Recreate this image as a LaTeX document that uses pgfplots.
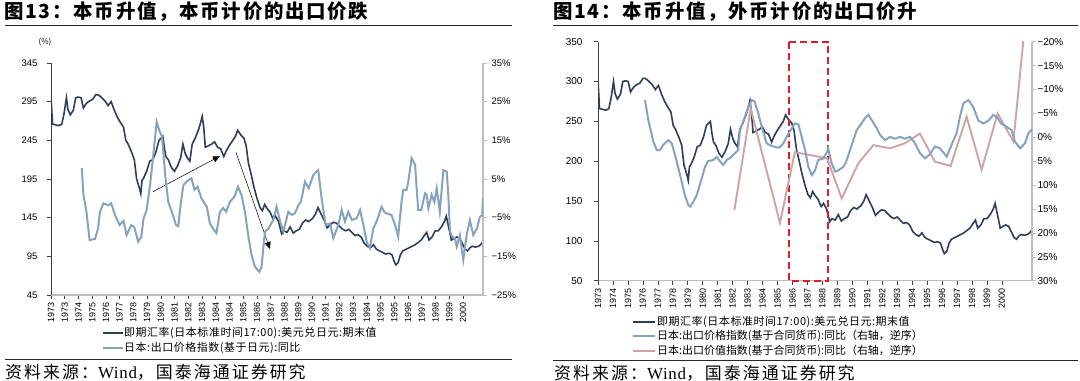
\documentclass[border=0pt]{standalone}
\usepackage{fontspec}
\setmainfont{Liberation Sans}
\newfontfamily\cjk{Noto Sans CJK SC}
\newfontfamily\cjkt[LetterSpace=9]{Noto Sans CJK SC}
\newfontfamily\cjks[LetterSpace=12]{Noto Sans CJK SC}
\newfontfamily\cjkl[LetterSpace=5]{Noto Sans CJK SC}
\newfontfamily\serifs[LetterSpace=4]{Liberation Serif}
\usepackage{pgfplots}
\pgfplotsset{compat=1.18}
\usepackage{pgfplotstable}
\usetikzlibrary{arrows.meta}
\definecolor{cDark}{RGB}{45,62,92}
\definecolor{cLight}{RGB}{134,163,189}
\definecolor{cPink}{RGB}{206,163,163}
\definecolor{cRed}{RGB}{220,30,40}
\definecolor{cGray}{RGB}{190,190,190}

\pgfplotstableread{
x y
1973.00 301
1973.10 266
1973.30 265
1973.50 264
1973.70 266
1973.85 280
1974.00 300
1974.10 285
1974.25 278
1974.45 284
1974.60 300
1974.75 301
1974.95 300
1975.10 287
1975.30 293
1975.50 296
1975.70 298
1975.90 304
1976.05 304
1976.30 300
1976.50 296
1976.70 290
1976.90 295
1977.10 284
1977.30 275
1977.50 268
1977.70 262
1977.85 245
1978.00 240
1978.20 231
1978.40 220
1978.55 195
1978.75 182
1978.82 176
1978.90 193
1979.00 196
1979.20 205
1979.40 218
1979.60 220
1979.80 230
1980.00 245
1980.25 250
1980.35 235
1980.45 224
1980.60 220
1980.80 210
1981.00 205
1981.20 212
1981.40 222
1981.55 240
1981.70 228
1981.85 222
1982.00 218
1982.15 240
1982.35 248
1982.55 258
1982.70 268
1982.80 276
1982.90 262
1983.00 236
1983.20 238
1983.40 240
1983.60 243
1983.80 236
1984.00 234
1984.20 224
1984.35 231
1984.55 238
1984.75 244
1984.95 250
1985.10 258
1985.30 252
1985.50 248
1985.65 238
1985.80 215
1985.95 203
1986.15 185
1986.35 170
1986.55 158
1986.70 154
1986.85 162
1987.00 157
1987.20 152
1987.40 143
1987.55 147
1987.75 140
1987.95 124
1988.10 128
1988.30 126
1988.50 133
1988.70 125
1988.90 128
1989.10 130
1989.30 138
1989.50 142
1989.70 140
1989.95 144
1990.15 150
1990.30 158
1990.50 150
1990.70 142
1990.90 132
1991.10 136
1991.30 139
1991.50 138
1991.70 134
1991.90 130
1992.10 128
1992.30 130
1992.50 126
1992.70 122
1992.90 123
1993.10 120
1993.30 112
1993.50 108
1993.70 106
1993.90 110
1994.10 104
1994.30 102
1994.50 100
1994.70 98
1994.90 99
1995.10 97
1995.25 88
1995.35 84
1995.50 87
1995.65 97
1995.80 102
1996.00 104
1996.20 106
1996.40 108
1996.60 110
1996.80 113
1997.00 116
1997.20 122
1997.35 126
1997.50 116
1997.70 120
1997.90 128
1998.10 128
1998.30 133
1998.50 140
1998.62 147
1998.75 135
1998.95 116
1999.10 118
1999.30 120
1999.50 118
1999.70 110
1999.85 104
2000.00 102
2000.15 106
2000.30 108
2000.50 107
2000.70 108
2000.85 110
2001.00 114
}\fx

\pgfplotstableread{
x y
1975.00 7.8
1975.10 1.0
1975.30 -3.5
1975.50 -10.8
1975.85 -10.5
1976.05 -7.8
1976.17 -3.5
1976.40 -1.3
1976.70 -1.8
1976.90 -1.3
1977.15 -4.3
1977.45 -6.9
1977.70 -5.8
1977.90 -9.5
1978.20 -6.9
1978.40 -7.5
1978.65 -11.2
1978.85 -10.0
1979.00 -5.2
1979.20 -3.0
1979.42 3.4
1979.63 11.2
1979.85 19.8
1980.05 17.2
1980.20 16.0
1980.40 6.0
1980.60 -0.9
1980.90 -4.3
1981.10 -6.9
1981.25 -7.2
1981.40 -1.6
1981.58 3.4
1981.80 4.4
1982.10 5.2
1982.30 2.2
1982.50 3.0
1982.75 0.0
1983.10 -2.2
1983.30 -6.5
1983.50 -7.8
1983.72 -9.0
1983.95 -3.5
1984.17 -2.5
1984.35 -3.5
1984.60 -0.9
1984.90 0.5
1985.12 3.0
1985.35 0.8
1985.57 -3.5
1985.78 -9.5
1986.00 -14.7
1986.22 -17.7
1986.50 -19.0
1986.65 -17.7
1986.76 -12.9
1986.87 -8.6
1987.10 -7.8
1987.40 -5.6
1987.62 -2.2
1987.85 -6.0
1988.06 -8.6
1988.38 -3.5
1988.60 -4.3
1988.81 -3.9
1989.03 -1.8
1989.20 -0.9
1989.46 4.3
1989.70 2.6
1990.00 6.0
1990.20 6.9
1990.32 7.3
1990.54 0.0
1990.80 -6.9
1991.08 -6.5
1991.30 -10.3
1991.62 -6.9
1991.84 -3.0
1992.05 -6.0
1992.27 -3.5
1992.50 -5.6
1992.81 -5.2
1993.03 -3.0
1993.25 -6.9
1993.46 -11.2
1993.67 -12.9
1993.89 -7.8
1994.10 -6.0
1994.43 -2.2
1994.60 -3.5
1994.75 -3.9
1995.07 -4.3
1995.30 -6.9
1995.50 -9.9
1995.72 -0.9
1995.83 2.2
1996.05 2.2
1996.16 4.3
1996.37 10.4
1996.60 8.7
1996.70 2.6
1996.80 -3.0
1997.00 -3.0
1997.24 1.3
1997.35 0.9
1997.46 -2.6
1997.67 0.9
1997.85 -0.9
1998.00 2.6
1998.20 -3.5
1998.43 7.3
1998.65 6.9
1998.75 0.9
1998.86 -8.6
1999.00 -9.9
1999.18 -10.3
1999.30 -12.5
1999.50 -9.5
1999.72 -15.9
1999.94 -9.5
2000.15 -5.6
2000.37 -9.5
2000.60 -7.8
2000.80 -4.8
2000.95 -4.3
2001.00 0.0
}\pyen

\pgfplotstableread{
x y
1976.03 -7.8
1976.25 -3.5
1976.40 -1.5
1976.57 0.9
1976.80 2.7
1977.00 2.7
1977.20 1.6
1977.54 0.6
1977.75 1.2
1977.97 3.7
1978.19 6.5
1978.40 9.3
1978.60 12.1
1978.83 14.2
1978.95 14.5
1979.15 13.5
1979.37 12.1
1979.69 8.6
1979.90 6.2
1980.10 5.0
1980.44 4.75
1980.65 4.1
1980.87 5.0
1981.08 5.8
1981.30 4.75
1981.50 4.4
1981.84 3.3
1982.04 2.7
1982.16 -1.5
1982.48 -4.3
1982.70 -6.4
1982.92 -7.8
1983.10 -7.5
1983.34 -5.0
1983.56 -2.2
1983.88 1.25
1984.20 1.8
1984.50 2.1
1984.74 2.1
1984.96 1.25
1985.17 -0.1
1985.50 -1.9
1985.70 -2.9
1985.93 -2.7
1986.14 -0.1
1986.36 2.7
1986.57 6.2
1986.80 7.9
1987.00 6.9
1987.20 4.75
1987.50 4.5
1987.75 3.3
1987.85 2.3
1988.07 5.4
1988.30 7.2
1988.50 6.9
1988.83 6.2
1989.00 5.2
1989.26 2.7
1989.47 0.6
1989.69 -1.5
1990.00 -2.9
1990.23 -4.0
1990.44 -4.7
1990.66 -3.6
1990.98 -1.9
1991.20 -0.5
1991.52 0.6
1991.85 -0.1
1992.16 0.3
1992.48 -0.1
1992.80 0.3
1993.13 -0.1
1993.45 1.25
1993.77 3.3
1994.10 4.4
1994.40 3.6
1994.74 1.9
1995.06 2.3
1995.50 4.05
1995.80 1.65
1996.13 -0.8
1996.35 -4.3
1996.57 -7.1
1996.90 -7.8
1997.20 -6.4
1997.54 -3.5
1997.86 -2.9
1998.20 -3.5
1998.50 -4.7
1998.80 -4.0
1999.00 -2.9
1999.36 -2.2
1999.68 -1.5
1999.90 0.9
2000.23 2.3
2000.55 1.25
2000.76 -0.8
2001.00 -1.7
}\pcc

\pgfplotstableread{
x y
1981.80 15.2
1982.85 -6.0
1984.74 17.9
1985.70 3.1
1987.78 4.4
1988.72 12.8
1989.80 5.4
1990.76 1.65
1991.84 2.3
1992.80 1.25
1993.77 -0.8
1994.74 5.1
1995.75 6.0
1996.78 -4.3
1997.75 6.8
1998.78 -5.0
1999.80 0.9
2000.80 -32
}\vcc

\pgfplotsset{
  base/.style={scale only axis, xmin=1973, xmax=2001,
    /pgf/number format/assume math mode=true,
    tick align=outside, major tick length=4bp,
    clip mode=individual},
}

\begin{document}
\begin{tikzpicture}
\useasboundingbox (0,0) rectangle (1080bp,381bp);

% titles and rules
\node[anchor=west, inner sep=0] at (4bp,369bp) {\cjkt\bfseries\fontsize{19.5}{20}\selectfont 图13：本币升值，本币计价的出口价跌};
\node[anchor=west, inner sep=0] at (553bp,369bp) {\cjkt\bfseries\fontsize{19.5}{20}\selectfont 图14：本币升值，外币计价的出口价升};
\draw[line width=0.9bp, black!85] (5bp,356bp) -- (512bp,356bp);
\draw[line width=0.9bp, black!85] (553bp,356bp) -- (1078bp,356bp);
\draw[line width=0.9bp, black!85] (5bp,22bp) -- (512bp,22bp);
\draw[line width=0.9bp, black!85] (553bp,21bp) -- (1078bp,21bp);
\node[anchor=west, inner sep=0] at (5bp,9bp) {\cjks\fontsize{17}{18}\selectfont 资料来源：\serifs Wind\cjks，国泰海通证券研究};
\node[anchor=west, inner sep=0] at (554bp,8bp) {\cjks\fontsize{17}{18}\selectfont 资料来源：\serifs Wind\cjks，国泰海通证券研究};

\node[anchor=center, inner sep=0] at (45bp,339bp) {\cjk\fontsize{8}{9}\selectfont (\%)};

% ---------- left panel ----------
\begin{axis}[base, at={(51bp,86bp)}, anchor=south west, width=432bp, height=232bp,
  ymin=45, ymax=345, ytick={45,95,145,195,245,295,345},
  axis x line*=bottom, axis y line*=left,
  x axis line style={draw=cGray, line width=1.2bp},
  y axis line style={draw=black!75, line width=0.8bp},
  tick style={draw=black!75, line width=0.6bp},
  xtick={1973.00,1973.89,1974.78,1975.67,1976.56,1977.45,1978.34,1979.23,1980.12,1981.01,1981.90,1982.79,1983.68,1984.57,1985.46,1986.35,1987.24,1988.13,1989.02,1989.91,1990.80,1991.69,1992.58,1993.47,1994.36,1995.25,1996.14,1997.03,1997.92,1998.81,1999.70},
  xticklabels={1973,1973,1974,1975,1976,1977,1978,1979,1980,1981,1982,1983,1984,1984,1985,1986,1987,1988,1989,1990,1991,1992,1993,1994,1995,1995,1996,1997,1998,1999,2000},
  xticklabel style={rotate=90, anchor=east, font=\fontsize{9}{9}\selectfont},
  yticklabel style={font=\fontsize{9.5}{10}\selectfont, xshift=-6bp},
]
\addplot[cDark, line width=1.6bp] table[x=x,y=y] {\fx};
\draw[black, line width=0.5bp, -{Triangle[length=7bp,width=6bp]}] (axis cs:1979.61,178.6) -- (axis cs:1983.95,224.7);
\draw[black, line width=0.5bp, -{Triangle[length=7bp,width=6bp]}] (axis cs:1984.99,229.5) -- (axis cs:1987.19,104.5);
\end{axis}
\begin{axis}[base, at={(51bp,86bp)}, anchor=south west, width=432bp, height=232bp,
  ymin=-25, ymax=35, ytick={-25,-15,-5,5,15,25,35},
  yticklabels={−25\%,−15\%,−5\%,5\%,15\%,25\%,35\%},
  axis y line*=right, axis x line=none,
  y axis line style={draw=cGray, line width=1.8bp},
  tick style={draw=cGray, line width=0.6bp},
  yticklabel style={font=\fontsize{9.5}{10}\selectfont, xshift=1bp},
]
\addplot[cLight, line width=2bp] table[x=x,y=y] {\pyen};
\end{axis}

% left legend
\draw[cDark, line width=1.6bp] (103bp,48bp) -- (123bp,48bp);
\node[anchor=west, inner sep=0] at (124bp,48bp) {\cjkl\fontsize{11}{12}\selectfont 即期汇率(日本标准时间17:00):美元兑日元:期末值};
\draw[cLight, line width=2bp] (103bp,33bp) -- (123bp,33bp);
\node[anchor=west, inner sep=0] at (124bp,33bp) {\cjkl\fontsize{11}{12}\selectfont 日本:出口价格指数(基于日元):同比};

% ---------- right panel ----------
\begin{axis}[base, at={(598bp,100.3bp)}, anchor=south west, width=434bp, height=239bp,
  ymin=50, ymax=350, ytick={50,100,...,350},
  axis x line*=bottom, axis y line*=left,
  x axis line style={draw=cGray, line width=1.2bp},
  y axis line style={draw=black!75, line width=0.8bp},
  tick style={draw=black!75, line width=0.6bp},
  xtick={1973.000,1973.965,1974.930,1975.895,1976.860,1977.825,1978.790,1979.755,1980.720,1981.685,1982.650,1983.615,1984.580,1985.545,1986.510,1987.475,1988.440,1989.405,1990.370,1991.335,1992.300,1993.265,1994.230,1995.195,1996.160,1997.125,1998.090,1999.055},
  xticklabels={1973,1974,1975,1976,1977,1978,1979,1980,1981,1982,1983,1984,1985,1986,1987,1988,1989,1990,1991,1992,1993,1994,1995,1996,1997,1998,1999,2000},
  xticklabel style={rotate=90, anchor=east, font=\fontsize{9}{9}\selectfont},
  yticklabel style={font=\fontsize{10}{11}\selectfont, xshift=-8bp},
]
\addplot[cDark, line width=1.6bp] table[x=x,y=y] {\fx};
\draw[cRed, line width=1.8bp, dash pattern=on 7bp off 4bp] (axis cs:1985.3,350) rectangle (axis cs:1987.85,50);
\end{axis}
\begin{axis}[base, at={(598bp,100.3bp)}, anchor=south west, width=434bp, height=239bp,
  ymin=-20, ymax=30, y dir=reverse, ytick={-20,-15,...,30},
  yticklabels={−20\%,−15\%,−10\%,−5\%,0\%,5\%,10\%,15\%,20\%,25\%,30\%},
  axis y line*=right, axis x line=none,
  y axis line style={draw=cGray, line width=1.8bp},
  tick style={draw=cGray, line width=0.6bp},
  yticklabel style={font=\fontsize{10}{11}\selectfont, xshift=-2bp},
]
\addplot[cPink, line width=1.9bp] table[x=x,y=y] {\vcc};
\addplot[cLight, line width=2bp] table[x=x,y=y] {\pcc};
\end{axis}

% right legend
\draw[cDark, line width=1.6bp] (633bp,59bp) -- (655bp,59bp);
\node[anchor=west, inner sep=0] at (657bp,59bp) {\cjkl\fontsize{11}{12}\selectfont 即期汇率(日本标准时间17:00):美元兑日元:期末值};
\draw[cLight, line width=2bp] (633bp,45bp) -- (655bp,45bp);
\node[anchor=west, inner sep=0] at (657bp,45bp) {\cjk\fontsize{11}{12}\selectfont 日本:出口价格指数(基于合同货币):同比（右轴，逆序）};
\draw[cPink, line width=2bp] (633bp,30bp) -- (655bp,30bp);
\node[anchor=west, inner sep=0] at (657bp,30bp) {\cjk\fontsize{11}{12}\selectfont 日本:出口价值指数(基于合同货币):同比（右轴，逆序）};
\end{tikzpicture}
\end{document}
